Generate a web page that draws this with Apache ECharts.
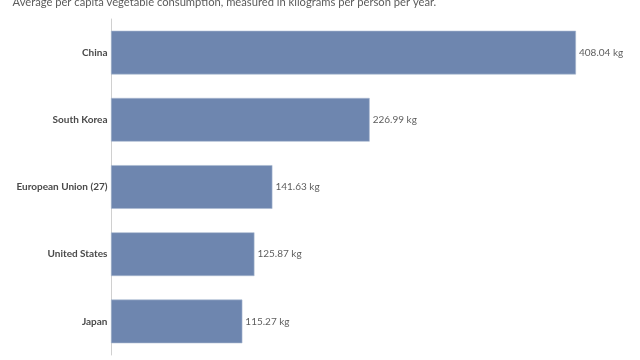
<!DOCTYPE html>
<html><head><meta charset="utf-8">
<style>html,body{margin:0;padding:0;background:#fff}#c{width:640px;height:360px}</style>
<script src="https://cdn.jsdelivr.net/npm/echarts@6/dist/echarts.min.js"></script>
</head><body><div id="c"></div>
<script>
const subtitle = "Average per capita vegetable consumption, measured in kilograms per person per year.";
const categories = ["China", "South Korea", "European Union (27)", "United States", "Japan"];
const values = [408.04, 226.99, 141.63, 125.87, 115.27];
const unit = " kg";

const chart = echarts.init(document.getElementById('c'), null, {renderer: 'canvas'});
chart.setOption({
  animation: false,
  title: {
    text: subtitle, left: 7.5, top: -8,
    textStyle: {fontFamily: 'Lato', fontSize: 11.2, fontWeight: 'normal', color: '#5b5b5b'}
  },
  grid: {left: 111, top: 19, bottom: 5, width: 512.8, containLabel: false},
  xAxis: {type: 'value', min: 0, max: 450, show: false},
  yAxis: {
    type: 'category', data: categories, inverse: true,
    axisLine: {show: true, lineStyle: {color: '#d0d0d0', width: 1}},
    axisTick: {show: false},
    axisLabel: {fontFamily: 'Lato', fontSize: 10, fontWeight: 'bold', color: '#4a4a4a', margin: 3.5}
  },
  series: [{
    type: 'bar', data: values, barWidth: '65%',
    itemStyle: {color: '#6e86af', borderColor: '#a9b8d0', borderWidth: 0.6},
    label: {show: true, position: 'right', distance: 3, formatter: p => p.value.toFixed(2) + unit,
      fontFamily: 'Lato', fontSize: 10, color: '#5e5e5e'}
  }]
});
</script></body></html>
